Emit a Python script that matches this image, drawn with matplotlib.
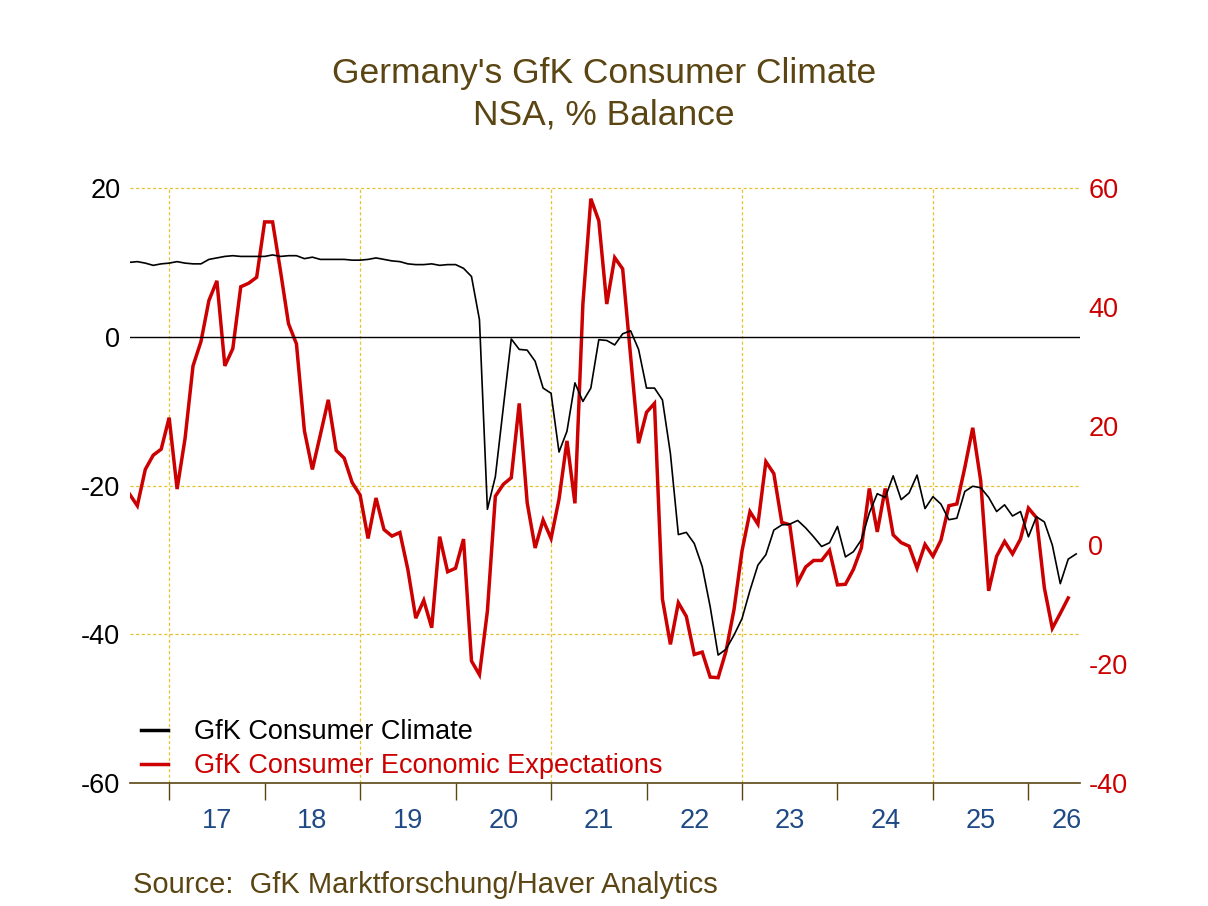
import numpy as np
import pandas as pd
import matplotlib
matplotlib.use('Agg')
import matplotlib.pyplot as plt
from matplotlib.lines import Line2D

plt.rcParams['font.family'] = ['Liberation Sans', 'DejaVu Sans']

# GfK consumer climate, monthly from Aug 2016 (left axis)
climate = [
    10.0, 10.1, 9.9, 9.6, 9.8,
    9.9, 10.1, 9.9, 9.8, 9.8, 10.4, 10.6, 10.8, 10.9, 10.8, 10.8, 10.8,
    10.8, 11.0, 10.8, 10.9, 10.9, 10.5, 10.7, 10.4, 10.4, 10.4, 10.4, 10.3,
    10.3, 10.4, 10.6, 10.4, 10.2, 10.1, 9.8, 9.7, 9.7, 9.8, 9.6, 9.7,
    9.7, 9.2, 8.1, 2.3, -23.2, -18.8, -9.5, -0.3, -1.7, -1.8, -3.3, -6.9,
    -7.6, -15.5, -12.7, -6.2, -8.7, -6.9, -0.4, -0.5, -1.1, 0.4, 0.8, -1.7,
    -6.9, -6.9, -8.5, -15.7, -26.6, -26.3, -27.8, -30.9, -36.3, -42.8, -42.0, -40.1,
    -37.9, -34.1, -30.7, -29.3, -26.0, -25.3, -25.2, -24.7, -25.7, -26.9, -28.2, -27.7,
    -25.5, -29.6, -28.9, -27.3, -23.7, -21.1, -21.6, -18.7, -21.9, -21.0, -18.6, -23.1,
    -21.5, -22.5, -24.6, -24.4, -20.8, -20.1, -20.3, -21.6, -23.5, -22.6, -24.1, -23.5,
    -26.9, -24.2, -24.9, -28.0, -33.2, -29.9, -29.2,
]

# GfK consumer economic expectations, monthly from Aug 2016 (right axis)
expectations = [
    8.6, 6.6, 12.7, 15.1, 16.1,
    21.4, 9.4, 17.9, 30.1, 34.2, 41.1, 44.4, 30.1, 33.0, 43.4, 44.0, 45.0,
    54.3, 54.3, 46.0, 37.2, 33.8, 19.2, 12.7, 18.5, 24.4, 15.9, 14.6, 10.5,
    8.4, 1.1, 7.9, 2.6, 1.5, 2.1, -4.1, -12.3, -9.3, -13.9, 1.4, -4.5,
    -3.9, 1.0, -19.5, -21.8, -11.1, 8.2, 10.2, 11.3, 23.8, 7.1, -0.5, 4.2,
    1.1, 7.7, 17.5, 7.0, 40.5, 58.2, 54.5, 40.5, 48.3, 46.4, 31.7, 17.1,
    22.3, 23.8, -9.1, -16.7, -9.7, -12.0, -18.4, -18.0, -22.2, -22.3, -17.8, -10.8,
    -1.0, 5.6, 3.5, 14.0, 12.0, 3.8, 3.4, -6.3, -3.7, -2.6, -2.6, -0.9,
    -6.7, -6.6, -4.1, -0.5, 9.5, 2.2, 9.5, 1.7, 0.4, -0.2, -3.9, 0.1,
    -1.9, 0.8, 6.6, 6.9, 13.0, 19.7, 10.8, -7.7, -1.9, 0.6, -1.5, 1.0,
    6.2, 4.6, -7.2, -14.0, -11.5, -8.9,
]

year_labels = ['17', '18', '19', '20', '21', '22', '23', '24', '25', '26']
year_ticks = [2017, 2018, 2019, 2020, 2021, 2022, 2023, 2024, 2025, 2026]
grid_years = [2017, 2019, 2021, 2023, 2025]
left_ticks = [-60, -40, -20, 0, 20]
right_ticks = [-40, -20, 0, 20, 40, 60]

series_names = ['GfK Consumer Climate', 'GfK Consumer Economic Expectations']


def to_decimal(dates):
    return dates.year + (dates.month - 1) / 12.0


climate_x = to_decimal(pd.date_range('2016-08-01', periods=len(climate), freq='MS'))
expect_x = to_decimal(pd.date_range('2016-08-01', periods=len(expectations), freq='MS'))

RED = '#cc0000'
BROWN = '#5a4513'
BLUE = '#1f4a86'
GRID = '#e6c22e'
FS = 19.5

W, H = 1208, 906
XMIN, XMAX = 2016.59, 2026.54
fig = plt.figure(figsize=(W / 100, H / 100), dpi=100)
ax = fig.add_axes([130 / W, 1 - 783 / H, 950 / W, 595 / H])
ax2 = ax.twinx()

# black line drawn on top of the red one
ax.set_zorder(ax2.get_zorder() + 1)
ax.patch.set_visible(False)

ax.set_xlim(XMIN, XMAX)
ax.set_ylim(-60, 20)
ax2.set_ylim(-40, 60)

# dotted grid follows the left scale: 20, -20, -40
for yv in [-40, -20, 20]:
    ax2.plot([XMIN, XMAX], [(yv + 60) * 100 / 80 - 40] * 2, color=GRID,
             lw=0.9, ls=(0, (2.5, 2)), zorder=0, clip_on=False)
for xv in grid_years:
    ax2.axvline(xv, color=GRID, lw=0.9, ls=(0, (2.5, 2)), zorder=0)
ax.axhline(0, color='black', lw=1.0, zorder=1)

ax2.plot(expect_x, expectations, color=RED, lw=2.5, solid_joinstyle='miter', zorder=3)
ax.plot(climate_x, climate, color='black', lw=1.2, zorder=4)

for a in (ax, ax2):
    for s in a.spines.values():
        s.set_visible(False)
ax.spines['bottom'].set_visible(True)
ax.spines['bottom'].set_color(BROWN)
ax.spines['bottom'].set_linewidth(1.2)

ax.set_yticks(left_ticks)
ax.set_yticklabels([str(v) for v in left_ticks])
ax.tick_params(axis='y', length=0, pad=7, labelsize=FS, labelcolor='black')
ax2.set_yticks(right_ticks)
ax2.set_yticklabels([str(v) for v in right_ticks])
ax2.tick_params(axis='y', length=0, pad=6, labelsize=FS, labelcolor=RED)

ax.set_xticks(year_ticks)
ax.set_xticklabels([])
ax.tick_params(axis='x', which='major', direction='out', length=12, width=1.0, color=BROWN)
label_pos = [y + 0.5 for y in year_ticks[:-1]] + [2026.4]
ax.set_xticks(label_pos, minor=True)
ax.set_xticklabels(year_labels, minor=True)
ax.tick_params(axis='x', which='minor', length=0, pad=18, labelsize=FS, labelcolor=BLUE)

handles = [Line2D([], [], color='black', lw=2.5), Line2D([], [], color=RED, lw=2.5)]
leg = ax.legend(handles, series_names, loc='upper left',
                bbox_to_anchor=(141 / W, 1 - 719 / H), bbox_transform=fig.transFigure,
                frameon=False, fontsize=FS, handlelength=1.0, handletextpad=0.95,
                labelspacing=0.3, borderpad=0, borderaxespad=0)
leg.get_texts()[0].set_color('black')
leg.get_texts()[1].set_color(RED)

fig.text(0.5, 1 - 74 / H, "Germany's GfK Consumer Climate", ha='center', va='center',
         fontsize=25.5, color=BROWN)
fig.text(0.5, 1 - 115 / H, 'NSA, % Balance', ha='center', va='center',
         fontsize=25.5, color=BROWN)
fig.text(133 / W, 1 - 885 / H, 'Source:  GfK Marktforschung/Haver Analytics', ha='left',
         va='center', fontsize=21, color=BROWN)

fig.savefig('out.png', dpi=100)
